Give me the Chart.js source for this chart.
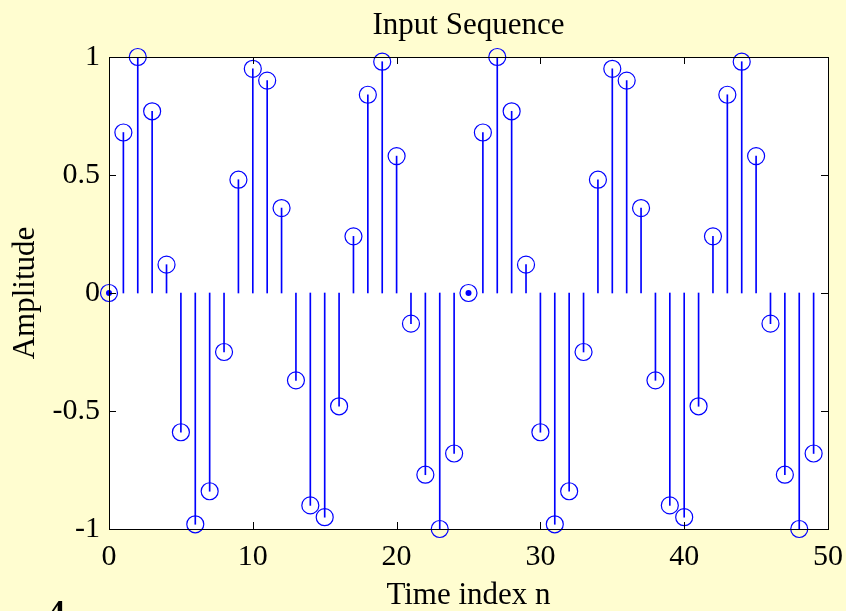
<!DOCTYPE html>
<html lang="en">
<head>
<meta charset="UTF-8">
<title>Input Sequence</title>
<script src="https://cdn.jsdelivr.net/npm/chart.js"></script>
<style>
    html, body { margin: 0; padding: 0; background: #fffdd0; }
    #wrap { width: 846px; height: 611px; position: relative; }
</style>
</head>
<body>
<div id="wrap"><canvas id="stemChart"></canvas></div>
<script>
    // data
    const timeIndex = [0, 1, 2, 3, 4, 5, 6, 7, 8, 9,
                       10, 11, 12, 13, 14, 15, 16, 17, 18, 19,
                       20, 21, 22, 23, 24, 25, 26, 27, 28, 29,
                       30, 31, 32, 33, 34, 35, 36, 37, 38, 39,
                       40, 41, 42, 43, 44, 45, 46, 47, 48, 49];
    const amplitude = [0, 0.68, 1.00, 0.77, 0.12, -0.59, -0.98, -0.84, -0.25, 0.48,
                       0.95, 0.90, 0.36, -0.37, -0.90, -0.95, -0.48, 0.24, 0.84, 0.98,
                       0.58, -0.13, -0.77, -1.00, -0.68, 0, 0.68, 1.00, 0.77, 0.12,
                       -0.59, -0.98, -0.84, -0.25, 0.48, 0.95, 0.90, 0.36, -0.37, -0.90,
                       -0.95, -0.48, 0.24, 0.84, 0.98, 0.58, -0.13, -0.77, -1.00, -0.68];
    const xTicks = [0, 10, 20, 30, 40, 50];
    const yTicks = [-1, -0.5, 0, 0.5, 1];

    const serif = "'Liberation Serif', 'Times New Roman', serif";
    const blue = '#0000ff';

    const points = timeIndex.map((n, i) => ({ x: n, y: amplitude[i] }));
    const zeroPoints = points.filter(p => Math.abs(p.y) < 0.005);

    // white axes box, black frame and inward tick marks on all four sides
    const axesBox = {
        id: 'axesBox',
        beforeDatasetsDraw(chart) {
            const { ctx, chartArea: a } = chart;
            ctx.save();
            ctx.fillStyle = '#ffffff';
            ctx.fillRect(a.left, a.top, a.width, a.height);
            ctx.restore();
        },
        afterDatasetsDraw(chart) {
            const { ctx, chartArea: a, scales } = chart;
            const tl = 7;
            ctx.save();
            ctx.strokeStyle = '#000';
            ctx.lineWidth = 1;
            ctx.strokeRect(a.left + 0.5, a.top + 0.5, a.width, a.height);
            ctx.beginPath();
            xTicks.forEach(v => {
                const px = Math.round(scales.x.getPixelForValue(v)) + 0.5;
                ctx.moveTo(px, a.bottom); ctx.lineTo(px, a.bottom - tl);
                ctx.moveTo(px, a.top); ctx.lineTo(px, a.top + tl);
            });
            yTicks.forEach(v => {
                const py = Math.round(scales.y.getPixelForValue(v)) + 0.5;
                ctx.moveTo(a.left, py); ctx.lineTo(a.left + tl, py);
                ctx.moveTo(a.right, py); ctx.lineTo(a.right - tl, py);
            });
            ctx.stroke();
            ctx.restore();
        },
        afterDraw(chart) {
            // cut-off character at the bottom edge of the figure
            const ctx = chart.ctx;
            ctx.save();
            ctx.fillStyle = '#000';
            ctx.font = 'bold 34px ' + serif;
            ctx.textBaseline = 'top';
            ctx.fillText('4', 48, 597);
            ctx.restore();
        }
    };

    const ctx = document.getElementById('stemChart').getContext('2d');
    const chart = new Chart(ctx, {
        type: 'bar',
        data: {
            datasets: [{
                type: 'bar',
                data: points,
                backgroundColor: blue,
                borderWidth: 0,
                barThickness: 1,
                order: 3
            },
            {
                type: 'scatter',
                data: points,
                pointStyle: 'circle',
                pointRadius: 8.5,
                pointBorderWidth: 1.2,
                pointBorderColor: blue,
                pointBackgroundColor: 'rgba(0,0,0,0)',
                clip: false,
                order: 2
            },
            {
                type: 'scatter',
                data: zeroPoints,
                pointRadius: 3,
                pointBorderWidth: 0,
                pointBackgroundColor: blue,
                clip: false,
                order: 1
            }]
        },
        options: {
            responsive: true,
            maintainAspectRatio: false,
            animation: false,
            events: [],
            layout: { padding: { left: 0, right: 18, top: 0, bottom: 0 } },
            plugins: {
                legend: { display: false },
                tooltip: { enabled: false },
                title: {
                    display: true,
                    text: 'Input Sequence',
                    color: '#000',
                    fullSize: false,
                    font: { family: serif, size: 31, weight: 'normal' },
                    padding: { top: 7, bottom: 12.8 }
                }
            },
            scales: {
                x: {
                    type: 'linear',
                    min: 0,
                    max: 50,
                    offset: false,
                    grid: { display: false, drawTicks: false, offset: false },
                    border: { display: false },
                    afterBuildTicks: s => { s.ticks = xTicks.map(v => ({ value: v })); },
                    afterFit: s => {
                        s.height = 82;
                        s.paddingLeft = 0;
                        s.paddingRight = 0;
                    },
                    ticks: {
                        color: '#000',
                        padding: 10,
                        maxRotation: 0,
                        font: { family: serif, size: 30 },
                        callback: v => String(v)
                    },
                    title: {
                        display: true,
                        text: 'Time index n',
                        color: '#000',
                        font: { family: serif, size: 31 },
                        padding: { top: 0, bottom: -3 }
                    }
                },
                y: {
                    min: -1,
                    max: 1,
                    grid: { display: false, drawTicks: false },
                    border: { display: false },
                    afterBuildTicks: s => { s.ticks = yTicks.map(v => ({ value: v })); },
                    afterFit: s => { s.width = 109; },
                    ticks: {
                        color: '#000',
                        padding: 9,
                        font: { family: serif, size: 30 },
                        callback: v => String(v)
                    },
                    title: {
                        display: true,
                        text: 'Amplitude',
                        color: '#000',
                        font: { family: serif, size: 31 },
                        padding: { top: 7, bottom: 0 }
                    }
                }
            }
        },
        plugins: [axesBox]
    });
</script>
</body>
</html>
